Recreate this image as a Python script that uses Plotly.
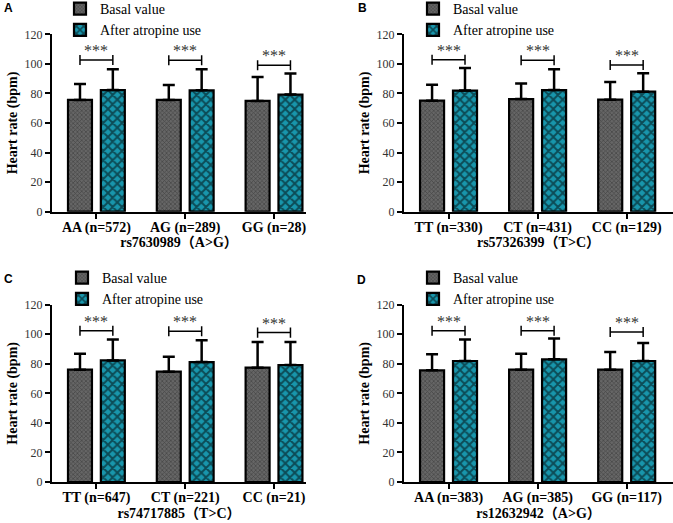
import plotly.graph_objects as go
from plotly.subplots import make_subplots

# panel data (mean, SD of heart rate in bpm)
panel_letters = ["A", "B", "C", "D"]
snp_titles = ["rs7630989（A>G）", "rs57326399（T>C）", "rs74717885（T>C）", "rs12632942（A>G）"]

labels_A = ["AA (n=572)", "AG (n=289)", "GG (n=28)"]
basal_A = [75.6, 75.6, 74.9]
basal_sd_A = [10.8, 10.1, 16.2]
after_A = [82.3, 82.1, 79.2]
after_sd_A = [14.0, 14.2, 14.2]
bracket_A = [102.6, 102.4, 99.0]

labels_B = ["TT (n=330)", "CT (n=431)", "CC (n=129)"]
basal_B = [75.1, 76.2, 75.8]
basal_sd_B = [10.8, 10.6, 11.9]
after_B = [81.9, 82.3, 81.2]
after_sd_B = [15.3, 14.0, 12.4]
bracket_B = [102.8, 102.5, 99.2]

labels_C = ["TT (n=647)", "CT (n=221)", "CC (n=21)"]
basal_C = [76.0, 74.7, 77.4]
basal_sd_C = [10.8, 10.1, 17.3]
after_C = [82.3, 81.2, 79.2]
after_sd_C = [14.2, 14.7, 15.5]
bracket_C = [102.4, 102.0, 101.1]

labels_D = ["AA (n=383)", "AG (n=385)", "GG (n=117)"]
basal_D = [75.6, 76.0, 76.0]
basal_sd_D = [10.8, 10.8, 12.0]
after_D = [81.9, 83.0, 81.9]
after_sd_D = [14.6, 14.2, 12.2]
bracket_D = [102.4, 102.4, 101.5]

stars = "***"

panels = [
    (labels_A, basal_A, basal_sd_A, after_A, after_sd_A, bracket_A),
    (labels_B, basal_B, basal_sd_B, after_B, after_sd_B, bracket_B),
    (labels_C, basal_C, basal_sd_C, after_C, after_sd_C, bracket_C),
    (labels_D, basal_D, basal_sd_D, after_D, after_sd_D, bracket_D),
]

SERIF = "Liberation Serif, Noto Sans CJK SC, serif"
TEAL = "#1896ac"
W, H = 673, 523

fig = make_subplots(rows=2, cols=2)

# domains in pixels -> paper
xdom = [[52 / W, 306 / W], [404 / W, 1.0]]
xrng = [[-0.5, 2.36], [-0.5, 2.52]]
ydom = [[(H - 211.7) / H, (H - 34.3) / H], [(H - 482) / H, (H - 304.7) / H]]

bw = 0.27
half = 0.185
tick_half = 3.4

legend_pos = [(60, -7), (413, -7), (62, 262), (413, 262)]
letter_pos = [(8, 8), (362, 8), (8, 279), (361, 280)]

for i, (labels, basal, bsd, after, asd, brk) in enumerate(panels):
    row, col = i // 2 + 1, i % 2 + 1
    xs = list(range(len(labels)))
    leg = "legend" if i == 0 else "legend%d" % (i + 1)

    fig.add_trace(go.Bar(
        x=xs, y=basal, width=bw, offset=-half - bw / 2,
        name="Basal value", legend=leg,
        marker=dict(color="#5e5e5e", line=dict(color="black", width=2.2),
                    pattern=dict(shape="x", bgcolor="#666666", fgcolor="#222222",
                                 size=3, solidity=0.4)),
        error_y=dict(type="data", array=bsd, arrayminus=[0] * len(bsd), symmetric=False,
                     color="black", thickness=2.5, width=6),
    ), row=row, col=col)

    fig.add_trace(go.Bar(
        x=xs, y=after, width=bw, offset=half - bw / 2,
        name="After atropine use", legend=leg,
        marker=dict(color=TEAL, line=dict(color="black", width=2.2),
                    pattern=dict(shape="x", bgcolor=TEAL, fgcolor="black",
                                 size=6.6, solidity=0.5)),
        error_y=dict(type="data", array=asd, arrayminus=[0] * len(asd), symmetric=False,
                     color="black", thickness=2.5, width=6),
    ), row=row, col=col)

    # significance brackets
    bx, by = [], []
    for j, h in enumerate(brk):
        l, r = j - half, j + half
        bx += [l, l, None, l, r, None, r, r, None]
        by += [h + tick_half, h - tick_half, None, h, h, None, h + tick_half, h - tick_half, None]
    fig.add_trace(go.Scatter(x=bx, y=by, mode="lines", showlegend=False, hoverinfo="skip",
                             line=dict(color="black", width=1.5)), row=row, col=col)

    xref = "x" if i == 0 else "x%d" % (i + 1)
    yref = "y" if i == 0 else "y%d" % (i + 1)
    for j, h in enumerate(brk):
        fig.add_annotation(x=j, y=h, xref=xref, yref=yref, text=stars, showarrow=False,
                           yanchor="bottom", yshift=-1,
                           font=dict(family=SERIF, size=16, color="#333333"))

    fig.update_xaxes(domain=xdom[col - 1], range=xrng[col - 1], tickvals=xs, ticktext=labels,
                     showline=True, linecolor="black", linewidth=2, ticks="outside",
                     ticklen=5, tickwidth=1.5, tickcolor="black", showgrid=False, zeroline=False,
                     ticklabelstandoff=-4,
                     tickfont=dict(family=SERIF, size=14, color="black", weight="bold"),
                     title=dict(text=snp_titles[i], standoff=1,
                                font=dict(family=SERIF, size=14, color="black", weight="bold")),
                     automargin=False, row=row, col=col)
    fig.update_yaxes(domain=ydom[row - 1], range=[0, 120], dtick=20,
                     showline=True, linecolor="black", linewidth=2, ticks="outside",
                     ticklen=5, tickwidth=2, tickcolor="black", showgrid=False, zeroline=False,
                     tickfont=dict(family=SERIF, size=12, color="#333333"),
                     title=dict(text="Heart rate (bpm)", standoff=4,
                                font=dict(family=SERIF, size=14, color="black", weight="bold")),
                     automargin=False, row=row, col=col)

    lx, ly = legend_pos[i]
    fig.update_layout({leg: dict(x=lx / W, y=1 - ly / H, xanchor="left", yanchor="top",
                                 bgcolor="rgba(0,0,0,0)", tracegroupgap=0,
                                 font=dict(family=SERIF, size=14, color="black"))})

    px, py = letter_pos[i]
    fig.add_annotation(x=px / W, y=1 - py / H, xref="paper", yref="paper",
                       text=panel_letters[i], showarrow=False, xanchor="center", yanchor="middle",
                       font=dict(family="Liberation Sans, Arial, sans-serif", size=12,
                                 color="black", weight="bold"))

fig.update_layout(
    width=W, height=H,
    margin=dict(l=0, r=0, t=0, b=0, autoexpand=False),
    plot_bgcolor="white", paper_bgcolor="white",
    barmode="overlay",
    showlegend=True,
)

# the page's default body margin would shift the figure by 8px
fig.write_html("out.html", config={"displayModeBar": False},
               post_script="document.body.style.margin='0';")
